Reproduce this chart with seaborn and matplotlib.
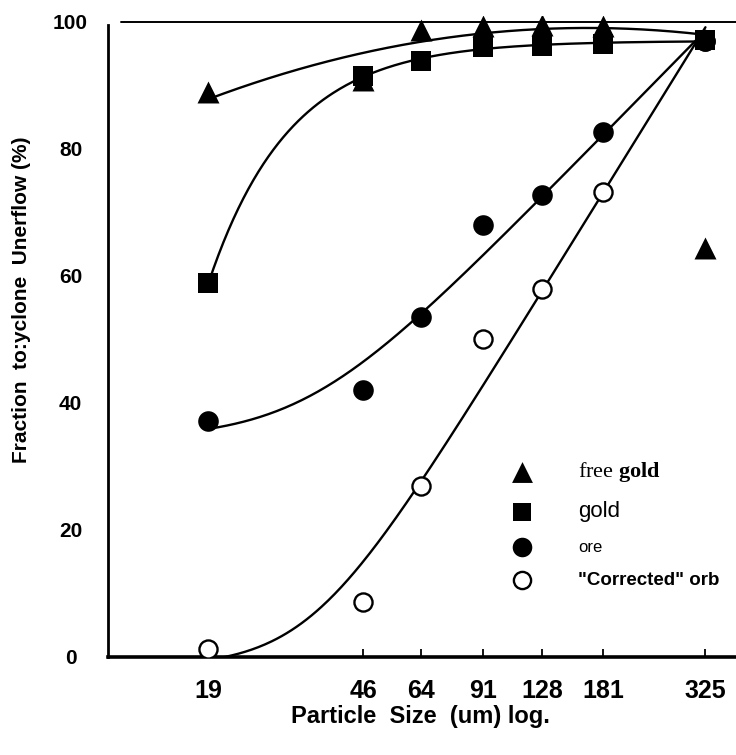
import numpy as np
import pandas as pd
import seaborn as sns
import matplotlib
matplotlib.use("Agg")
import matplotlib.pyplot as plt
from matplotlib.ticker import FixedLocator, NullLocator

# ---------------- data ----------------
sizes = [19, 46, 64, 91, 128, 181, 325]
tick_labels = ["19", "46", "64", "91", "128", "181", "325"]
free_gold = [89.0, 90.8, 98.7, 99.4, 99.5, 99.4, 64.4]
gold = [58.9, 91.5, 93.9, 96.1, 96.2, 96.5, 97.2]
ore = [37.1, 42.0, 53.5, 68.1, 72.8, 82.6, 97.0]
corrected = [1.2, 8.6, 27.0, 50.0, 57.9, 73.2, 97.0]
y_ticks = [0, 20, 40, 60, 80, 100]
y_tick_labels = ["0", "20", "40", "60", "80", "100"]

sns.set_theme(style="white")
plt.rcParams["font.family"] = ["Liberation Sans", "DejaVu Sans"]
plt.rcParams["mathtext.fontset"] = "custom"
plt.rcParams["mathtext.rm"] = "Liberation Serif"
plt.rcParams["mathtext.bf"] = "Liberation Serif:bold"

NARROW = ["Liberation Sans Narrow", "Liberation Sans", "DejaVu Sans"]


# ---------------- smooth fitted curves (computed from the data) --------
def exp_fit(x, y):
    """least squares fit of y = A - B*exp(-k*log10(x))"""
    L = np.log10(np.asarray(x, float))
    y = np.asarray(y, float)
    best = None
    for k in np.linspace(0.5, 12, 400):
        X = np.column_stack([np.ones_like(L), -np.exp(-k * L)])
        coef, *_ = np.linalg.lstsq(X, y, rcond=None)
        r = np.sum((X @ coef - y) ** 2)
        if best is None or r < best[0]:
            best = (r, k, coef)
    _, k, (A, B) = best
    return lambda xx: A - B * np.exp(-k * np.log10(xx))


def softplus_fit(x, y, kmax=9.0):
    """least squares fit of y = c + a*softplus(k*(log10(x)-L0))/k"""
    L = np.log10(np.asarray(x, float))
    y = np.asarray(y, float)
    best = None
    for k in np.linspace(3, kmax, 61):
        for L0 in np.linspace(1.0, 2.4, 141):
            f = np.logaddexp(0, k * (L - L0)) / k
            X = np.column_stack([np.ones_like(L), f])
            coef, *_ = np.linalg.lstsq(X, y, rcond=None)
            r = np.sum((X @ coef - y) ** 2)
            if best is None or r < best[0]:
                best = (r, k, L0, coef)
    _, k, L0, (c, a) = best
    return lambda xx: c + a * np.logaddexp(0, k * (np.log10(xx) - L0)) / k


def poly_fit(x, y, deg):
    p = np.polyfit(np.log10(x), y, deg)
    return lambda xx: np.polyval(p, np.log10(xx))


xs = np.logspace(np.log10(sizes[0]), np.log10(sizes[-1]), 300)
# free-gold curve: its 325 point is an outlier, the drawn curve ends on the
# common end point of the other curves
free_curve_y = free_gold[:-1] + [gold[-1]]
curve_free = poly_fit(sizes, free_curve_y, 2)(xs)
curve_gold = exp_fit(sizes, gold)(xs)
curve_ore = softplus_fit(sizes, ore, 7.0)(xs)
curve_corr = softplus_fit(sizes, corrected, 9.0)(xs)

# ---------------- figure ----------------
W, H = 736, 755
fig = plt.figure(figsize=(W / 100, H / 100), dpi=100)
ax = fig.add_axes([108 / W, 98 / H, 628 / W, 0.8495])
ax.set_xscale("log")
ax.set_xlim(10.7, 387)
ax.set_ylim(0, 101)

for c in (curve_free, curve_gold, curve_ore, curve_corr):
    sns.lineplot(x=xs, y=c, color="black", linewidth=1.7, ax=ax,
                 estimator=None, sort=False, zorder=2)

ax.axhline(100, xmin=0.02, xmax=1.0, color="black", linewidth=1.4, zorder=1)

sns.scatterplot(x=sizes, y=free_gold, marker="^", s=250, color="black",
                linewidth=0, ax=ax, zorder=3, label="free gold")
sns.scatterplot(x=sizes, y=gold, marker="s", s=200, color="black",
                linewidth=0, ax=ax, zorder=4, label="gold")
sns.scatterplot(x=sizes, y=ore, marker="o", s=220, color="black",
                linewidth=0, ax=ax, zorder=3, label="ore")
sns.scatterplot(x=sizes, y=corrected, marker="o", s=170, facecolor="white",
                edgecolor="black", linewidth=1.7, ax=ax, zorder=3,
                label='"Corrected" orb')

# ---------------- axes styling ----------------
for s in ("top", "right"):
    ax.spines[s].set_visible(False)
ax.spines["left"].set_linewidth(2.0)
ax.spines["left"].set_color("black")
ax.spines["left"].set_bounds(0, 99.5)
ax.spines["bottom"].set_linewidth(2.6)
ax.spines["bottom"].set_color("black")

ax.xaxis.set_major_locator(FixedLocator(sizes))
ax.xaxis.set_minor_locator(NullLocator())
ax.set_xticklabels(tick_labels)
ax.tick_params(axis="x", direction="in", length=6, width=1.3, color="black",
               pad=16, bottom=True)
for t in ax.get_xticklabels():
    t.set_fontfamily(NARROW)
    t.set_fontweight("bold")
    t.set_fontsize(18)
    t.set_color("black")

ax.set_yticks(y_ticks)
ax.set_yticklabels(y_tick_labels)
ax.tick_params(axis="y", length=0, pad=27)
for t in ax.get_yticklabels():
    t.set_fontweight("bold")
    t.set_fontsize(15)
    t.set_horizontalalignment("center")
    t.set_color("black")

ax.set_xlabel("")
ax.set_ylabel("")
fig.text(22 / W, 1 - 300 / H, "Fraction  to:yclone  Unerflow (%)",
         rotation=90, ha="center", va="center", fontsize=15,
         fontweight="bold", color="black")
fig.text(420 / W, 1 - 716 / H, "Particle  Size  (um) log.", ha="center",
         va="center", fontsize=17, fontweight="bold", family=NARROW,
         color="black")

# ---------------- legend ----------------
handles, labels = ax.get_legend_handles_labels()
labels[0] = r"free $\mathbf{gold}$"
leg = ax.legend(handles, labels, loc="upper left", frameon=False,
                bbox_to_anchor=(508 / W, 1 - 460 / H),
                bbox_transform=fig.transFigure, borderpad=0,
                borderaxespad=0, handlelength=1.5, handletextpad=2.4,
                labelspacing=0.95, fontsize=13, markerscale=0.95)
texts = leg.get_texts()
texts[0].set_fontfamily(["Liberation Serif", "DejaVu Serif"])
texts[0].set_fontsize(16)
texts[1].set_fontfamily(NARROW)
texts[1].set_fontsize(16)
texts[2].set_fontsize(12)
texts[3].set_fontweight("bold")
texts[3].set_fontsize(13.5)
for t in texts:
    t.set_color("black")

fig.savefig("out.png", dpi=100, facecolor="white")
